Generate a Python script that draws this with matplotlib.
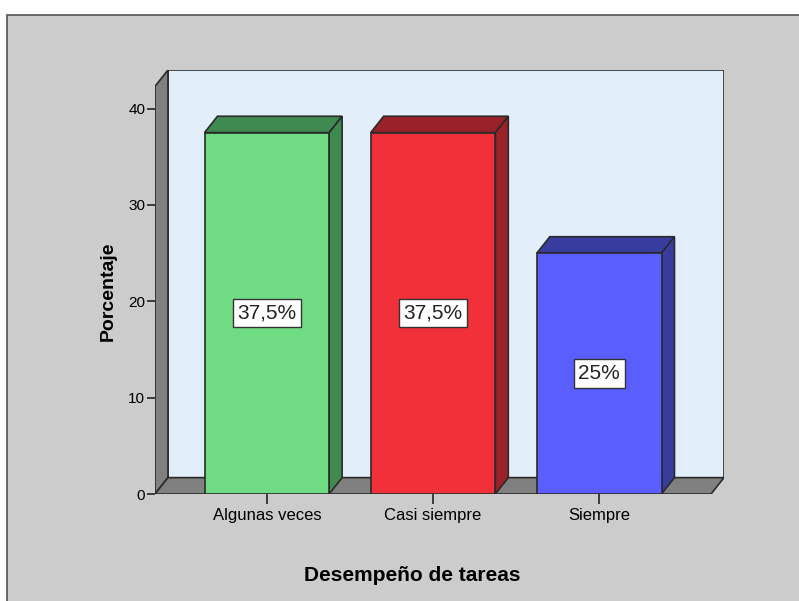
import matplotlib
matplotlib.use("Agg")
import matplotlib.pyplot as plt
from matplotlib.patches import Polygon, Rectangle

categorias = ["Algunas veces", "Casi siempre", "Siempre"]
porcentajes = [37.5, 37.5, 25.0]
etiquetas = ["37,5%", "37,5%", "25%"]
yticks = [0, 10, 20, 30, 40]

frente = ["#6FDC84", "#F2303A", "#5A5EFF"]
lado = ["#3F8A4F", "#9A2128", "#383C9E"]

plt.rcParams["font.family"] = ["Liberation Sans", "DejaVu Sans"]

fig = plt.figure(figsize=(7.99, 6.01), dpi=100, facecolor="white")
# gray panel behind the chart
fig.patches.append(Rectangle((7 / 799, -0.01), 1.0, (601 - 15) / 601 + 0.01,
                             transform=fig.transFigure, facecolor="#CCCCCC",
                             edgecolor="#555555", linewidth=1.2, zorder=-5))

ax = fig.add_axes([155 / 799, 107 / 601, 569 / 799, 424 / 601])
ax.set_facecolor("none")

x0, x1 = -0.673, 2.673
ytop = 42.3
dx, dy = 0.078, 1.7
ax.set_xlim(x0, x1 + dx)
ax.set_ylim(0, ytop + dy)
ec = "#2a2a2a"

# back wall, left wall, floor
ax.add_patch(Rectangle((x0 + dx, dy), x1 - x0, ytop, facecolor="#E2EEFA",
                       edgecolor=ec, linewidth=1.2, zorder=1))
ax.add_patch(Polygon([(x0, 0), (x0 + dx, dy), (x0 + dx, ytop + dy), (x0, ytop)],
                     facecolor="#808080", edgecolor=ec, linewidth=1.2, zorder=2))
ax.add_patch(Polygon([(x0, 0), (x1, 0), (x1 + dx, dy), (x0 + dx, dy)],
                     facecolor="#808080", edgecolor=ec, linewidth=1.2, zorder=2))

w = 0.75
xs = range(len(categorias))
ax.bar(xs, porcentajes, width=w, color=frente, edgecolor=ec, linewidth=1.2, zorder=4)
for i, v in enumerate(porcentajes):
    l, r = i - w / 2, i + w / 2
    ax.add_patch(Polygon([(l, v), (r, v), (r + dx, v + dy), (l + dx, v + dy)],
                         facecolor=lado[i], edgecolor=ec, linewidth=1.2, zorder=3))
    ax.add_patch(Polygon([(r, 0), (r + dx, dy), (r + dx, v + dy), (r, v)],
                         facecolor=lado[i], edgecolor=ec, linewidth=1.2, zorder=3))
    ax.text(i, v / 2, etiquetas[i], ha="center", va="center", fontsize=15,
            color="#222222", zorder=5,
            bbox=dict(boxstyle="square,pad=0.22", facecolor="white",
                      edgecolor="#333333", linewidth=1))

for s in ax.spines.values():
    s.set_visible(False)

ax.set_yticks(yticks)
ax.set_yticklabels([str(t) for t in yticks], fontsize=11)
ax.set_xticks(list(xs))
ax.set_xticklabels(categorias, fontsize=12)
ax.tick_params(axis="y", length=6, width=1.2, color="#222222", pad=1)
ax.tick_params(axis="x", length=7, width=1.2, color="#222222", pad=3)

yl = ax.set_ylabel("Porcentaje", fontsize=14, fontweight="bold")
yl.set_verticalalignment("center")
ax.yaxis.set_label_coords(-0.0826, 0.479)
xl = ax.set_xlabel("Desempeño de tareas", fontsize=15, fontweight="bold")
xl.set_verticalalignment("center")
ax.xaxis.set_label_coords(0.4526, -0.193)

fig.savefig("out.png", dpi=100)
